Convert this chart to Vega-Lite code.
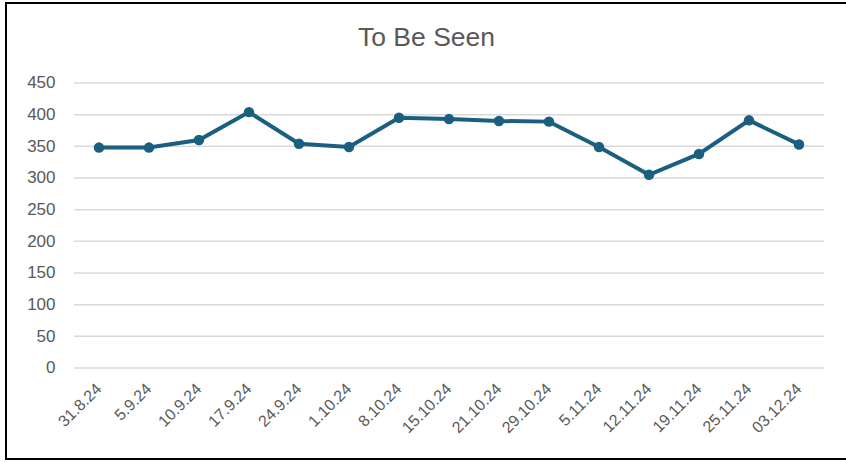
{
  "$schema": "https://vega.github.io/schema/vega-lite/v6.json",
  "autosize": {"type": "none"},
  "padding": {"left": 6, "top": 3, "right": 0, "bottom": 3},
  "width": 842,
  "height": 456,
  "background": "white",
  "title": {
    "text": "To Be Seen",
    "anchor": "start",
    "frame": "group",
    "dx": 352,
    "offset": -48,
    "font": "Liberation Sans",
    "fontSize": 26.5,
    "fontWeight": "normal",
    "color": "#595959"
  },
  "config": {
    "view": {"stroke": "black", "strokeWidth": 2},
    "axis": {"labelFont": "Liberation Sans", "labelColor": "#595959"}
  },
  "datasets": {
    "series": [
      {"date": "31.8.24", "value": 348},
      {"date": "5.9.24", "value": 348},
      {"date": "10.9.24", "value": 360},
      {"date": "17.9.24", "value": 404},
      {"date": "24.9.24", "value": 354},
      {"date": "1.10.24", "value": 349},
      {"date": "8.10.24", "value": 395},
      {"date": "15.10.24", "value": 393},
      {"date": "21.10.24", "value": 390},
      {"date": "29.10.24", "value": 389},
      {"date": "5.11.24", "value": 349},
      {"date": "12.11.24", "value": 305},
      {"date": "19.11.24", "value": 338},
      {"date": "25.11.24", "value": 391},
      {"date": "03.12.24", "value": 353}
    ],
    "grid": [
      {"tick": 0}, {"tick": 50}, {"tick": 100}, {"tick": 150}, {"tick": 200},
      {"tick": 250}, {"tick": 300}, {"tick": 350}, {"tick": 400}, {"tick": 450}
    ]
  },
  "layer": [
    {
      "data": {"name": "grid"},
      "mark": {"type": "rule", "color": "#d9d9d9", "strokeWidth": 1.5},
      "encoding": {
        "x": {"datum": "31.8.24", "type": "ordinal", "bandPosition": 0},
        "x2": {"datum": "03.12.24", "bandPosition": 1},
        "y": {"field": "tick", "type": "quantitative"}
      }
    },
    {
      "data": {"name": "series"},
      "mark": {"type": "line", "color": "#1a5f80", "strokeWidth": 4, "point": {"filled": true, "size": 110, "color": "#1a5f80"}},
      "encoding": {
        "x": {
          "field": "date",
          "type": "ordinal",
          "sort": null,
          "scale": {
            "type": "band",
            "domain": ["31.8.24", "5.9.24", "10.9.24", "17.9.24", "24.9.24", "1.10.24", "8.10.24", "15.10.24", "21.10.24", "29.10.24", "5.11.24", "12.11.24", "19.11.24", "25.11.24", "03.12.24"],
            "paddingInner": 0,
            "paddingOuter": 0.92,
            "align": 0.739
          },
          "axis": {
            "title": null,
            "labelAngle": -45,
            "labelFontSize": 16,
            "domain": false,
            "ticks": false,
            "tickSize": 0,
            "labelPadding": 0,
            "offset": -73,
            "grid": false
          }
        },
        "y": {
          "field": "value",
          "type": "quantitative",
          "scale": {"domain": [-143.7, 576.3], "nice": false, "zero": false},
          "axis": {
            "title": null,
            "values": [0, 50, 100, 150, 200, 250, 300, 350, 400, 450],
            "labelFontSize": 17,
            "domain": false,
            "ticks": false,
            "tickSize": 0,
            "labelPadding": 0,
            "offset": -49,
            "grid": false
          }
        }
      }
    }
  ]
}
